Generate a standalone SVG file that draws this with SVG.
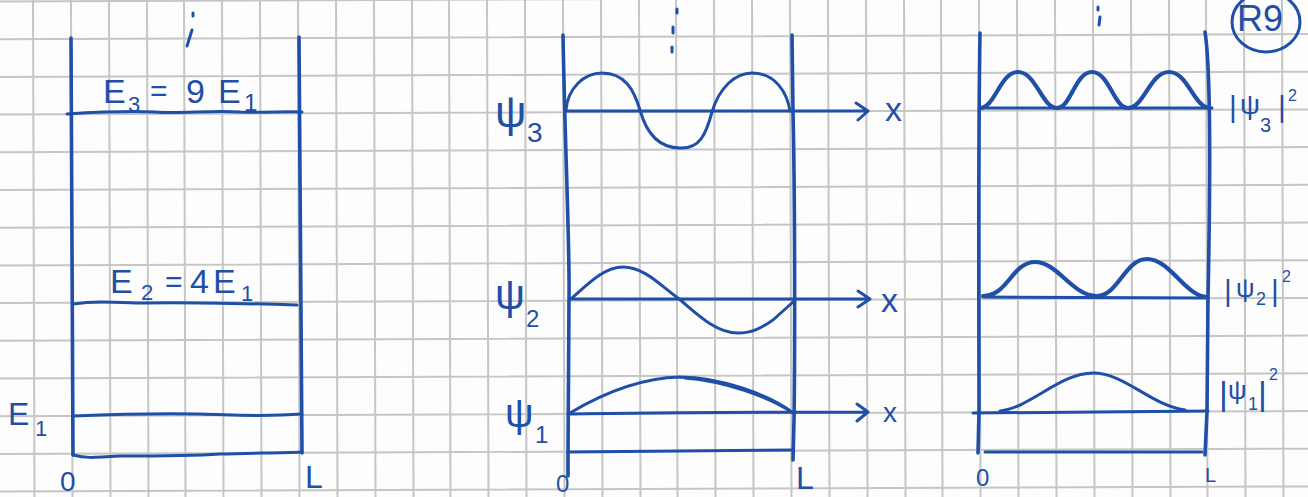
<svg xmlns="http://www.w3.org/2000/svg" width="1308" height="497" viewBox="0 0 1308 497">
<style>
.grid{stroke:#c6c6c6;stroke-width:2;fill:none}
.ink{stroke:#1f4fa6;stroke-width:3;fill:none;stroke-linecap:round;stroke-linejoin:round}
.wall{stroke-width:3.6}
.bold{stroke-width:4.2}
.t{fill:#1f4fa6;font-family:"Liberation Sans",Arial,sans-serif}
</style>
<rect x="0" y="0" width="1308" height="497" fill="#fdfdfd"/>
<g id="grid">
<path class="grid" d="M0,1.5L1308,-3.7M0,39.2L1308,34M0,76.9L1308,71.7M0,114.6L1308,109.4M0,152.3L1308,147.1M0,190L1308,184.8M0,227.7L1308,222.5M0,265.4L1308,260.2M0,303.1L1308,297.9M0,340.8L1308,335.6M0,378.5L1308,373.3M0,416.2L1308,411M0,453.9L1308,448.7M0,491.6L1308,486.4"/>
<path class="grid" d="M33,0l1.5,497M71,0l1.5,497M109,0l1.5,497M147,0l1.5,497M184,0l1.5,497M222,0l1.5,497M260,0l1.5,497M298,0l1.5,497M336,0l1.5,497M374,0l1.5,497M412,0l1.5,497M449,0l1.5,497M487,0l1.5,497M525,0l1.5,497M563,0l1.5,497M601,0l1.5,497M639,0l1.5,497M676,0l1.5,497M714,0l1.5,497M752,0l1.5,497M790,0l1.5,497M828,0l1.5,497M866,0l1.5,497M904,0l1.5,497M941,0l1.5,497M979,0l1.5,497M1017,0l1.5,497M1055,0l1.5,497M1093,0l1.5,497M1131,0l1.5,497M1169,0l1.5,497M1206,0l1.5,497M1244,0l1.5,497M1282,0l1.5,497"/>
</g>

<g id="panel-energy">
<path class="ink wall" d="M71,38 C72,150 73,300 73,455"/>
<path class="ink wall" d="M299,37 C301,150 302,300 302,453"/>
<path class="ink" d="M67,114 C100,112 130,111 155,112 C180,114 210,110 240,112 C265,113 285,111 302,112"/>
<path class="ink" d="M73,304 C95,301 110,302 140,303 C180,302 230,303 297,305"/>
<path class="ink" d="M73,416 C120,414 160,413 200,414 C240,415 260,417 302,414"/>
<path class="ink" d="M73,455 C85,458 90,458 120,456 C160,456 190,456 220,454 C250,453 280,453 302,452"/>
<path class="ink" d="M193,13 L193,16 M192,30 L187,46"/>
<text class="t" font-size="34"><tspan x="103" y="103">E</tspan><tspan x="128" y="112" font-size="22">3</tspan><tspan x="150" y="101" font-size="30">=</tspan><tspan x="186" y="103">9</tspan><tspan x="218" y="103">E</tspan><tspan x="244" y="111" font-size="24">1</tspan></text>
<text class="t" font-size="34"><tspan x="110" y="293">E</tspan><tspan x="141" y="300" font-size="22">2</tspan><tspan x="165" y="292" font-size="30">=</tspan><tspan x="190" y="293">4</tspan><tspan x="213" y="293">E</tspan><tspan x="241" y="301" font-size="22">1</tspan></text>
<text class="t" font-size="32"><tspan x="8" y="425">E</tspan><tspan x="35" y="436" font-size="22">1</tspan></text>
<text class="t" x="60" y="491" font-size="28">0</text>
<text class="t" x="305" y="488" font-size="32">L</text>
</g>

<g id="panel-psi">
<path class="ink wall" d="M563,35 C565,150 570,250 569,300 L568,455 L568,476"/>
<path class="ink wall" d="M792,35 L793,111 C795,200 795,350 794,420 L793,460"/>
<path class="ink" d="M566,111 L868,111 M856,103 L868,111 L858,120"/>
<path class="ink" d="M566,110 C568,88 584,73 602,73 C625,73 634,90 640,110 C645,128 656,148 680,148 C700,149 706,134 712,112 C719,88 735,73 752,73 C775,73 787,92 790,111"/>
<path class="ink" d="M570,299 L870,299 M858,291 L870,299 L858,307"/>
<path class="ink" d="M572,298 C590,282 605,267 623,267 C645,267 662,287 678,298 C695,312 715,333 738,333 C755,333 765,325 773,320 L793,302"/>
<path class="ink" d="M568,414 C650,413 720,412 868,412 M857,404 L868,412 L857,421"/>
<path class="ink" d="M570,413 C600,395 640,378 680,377 C720,377 770,395 793,413"/>
<path class="ink" d="M685,378 C725,381 768,397 790,411"/>
<path class="ink" d="M568,452 C650,451 720,451 792,450"/>
<path class="ink" d="M677,9 L677,13 M673,27 L673,33 M672,47 L672,52"/>
<text class="t" font-size="44"><tspan x="495" y="127">ψ</tspan><tspan x="527" y="142" font-size="28">3</tspan></text>
<text class="t" font-size="42"><tspan x="495" y="309">ψ</tspan><tspan x="526" y="327" font-size="24">2</tspan></text>
<text class="t" font-size="40"><tspan x="505" y="427">ψ</tspan><tspan x="535" y="443" font-size="24">1</tspan></text>
<text class="t" x="885" y="121" font-size="34">x</text>
<text class="t" x="881" y="312" font-size="34">x</text>
<text class="t" x="883" y="422" font-size="28">x</text>
<text class="t" x="556" y="492" font-size="24">0</text>
<text class="t" x="796" y="489" font-size="32">L</text>
</g>

<g id="panel-prob">
<path class="ink wall" d="M980,33 C978,150 979,300 979,412 L978,453"/>
<path class="ink wall" d="M1205,32 C1211,70 1210,200 1208,298 L1207,412 L1205,455"/>
<path class="ink" d="M980,108 L1212,108"/>
<path class="ink bold" d="M980,108 C995,108 1000,72 1018,72 C1036,72 1042,108 1057,108 C1071,108 1075,72 1092,72 C1109,72 1114,108 1128,108 C1144,108 1150,72 1169,72 C1188,72 1194,108 1210,108"/>
<path class="ink" d="M983,297 L1208,298"/>
<path class="ink bold" d="M983,296 C1008,296 1012,262 1035,262 C1058,262 1072,296 1097,296 C1118,296 1125,259 1147,259 C1170,259 1185,296 1207,297"/>
<path class="ink" d="M973,413 L1208,411"/>
<path class="ink" d="M1000,411 C1030,408 1060,373 1093,373 C1125,373 1150,405 1185,410"/>
<path class="ink" d="M985,452 L1202,452"/>
<path class="ink" d="M1098,7 L1098,10 M1100,17 L1099,25"/>
<text class="t" x="976" y="486" font-size="24">0</text>
<text class="t" x="1205" y="482" font-size="20">L</text>
<text class="t" font-size="28"><tspan x="1229" y="117" font-size="30">|</tspan><tspan x="1240" y="114">ψ</tspan><tspan x="1260" y="132" font-size="20">3</tspan><tspan x="1278" y="117" font-size="30">|</tspan><tspan x="1288" y="101" font-size="16">2</tspan></text>
<text class="t" font-size="26"><tspan x="1224" y="301" font-size="30">|</tspan><tspan x="1236" y="297">ψ</tspan><tspan x="1256" y="305" font-size="18">2</tspan><tspan x="1271" y="301" font-size="30">|</tspan><tspan x="1282" y="282" font-size="16">2</tspan></text>
<text class="t" font-size="26"><tspan x="1219" y="405" font-size="34">|</tspan><tspan x="1228" y="399">ψ</tspan><tspan x="1248" y="410" font-size="18">1</tspan><tspan x="1258" y="405" font-size="34">|</tspan><tspan x="1269" y="380" font-size="16">2</tspan></text>
<ellipse class="ink" cx="1266" cy="22" rx="34" ry="30"/>
<text class="t" x="1237" y="31" font-size="36">R9</text>
</g>
</svg>
